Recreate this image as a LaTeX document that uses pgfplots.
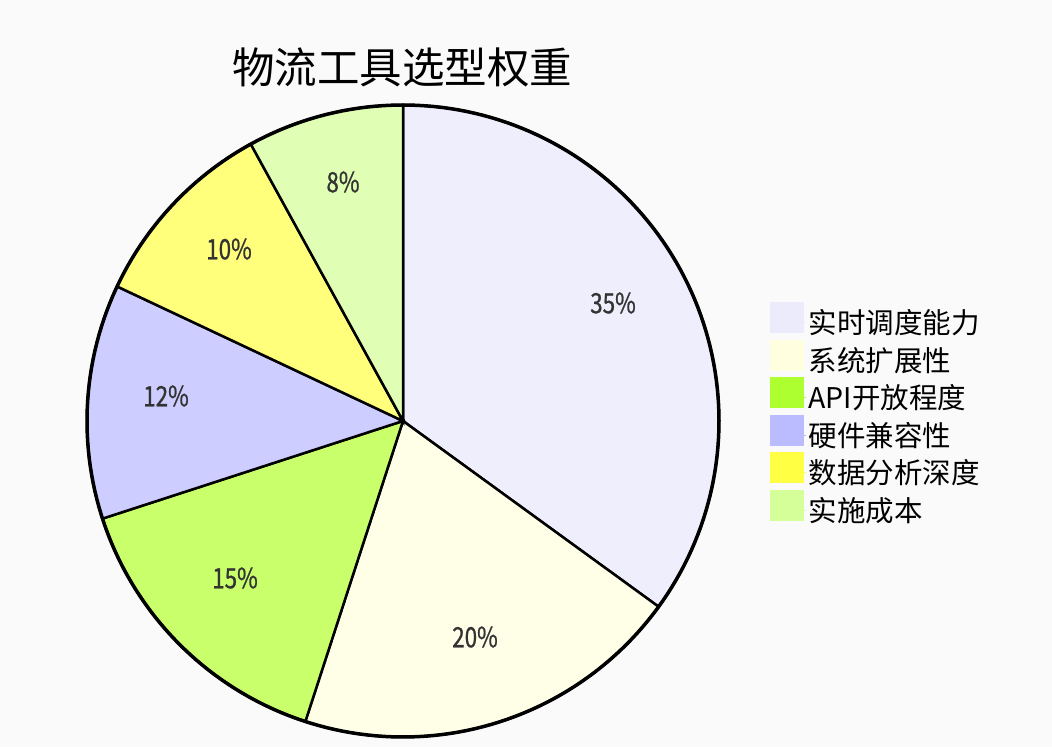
\documentclass[border=0pt]{standalone}
\usepackage{pgfplots}
\pgfplotsset{compat=1.18}
\usepackage{fontspec}
\setmainfont{Noto Sans CJK SC}
\newfontfamily\pctfont{Noto Sans CJK SC}[FakeStretch=0.8, FakeBold=0.8]
\definecolor{bg}{HTML}{FAFAFA}
\definecolor{s1}{HTML}{EEEEFC}
\definecolor{s2}{HTML}{FFFFE8}
\definecolor{s3}{HTML}{C9FF6A}
\definecolor{s4}{HTML}{CDCDFF}
\definecolor{s5}{HTML}{FFFF7C}
\definecolor{s6}{HTML}{E0FFB4}
\definecolor{l1}{HTML}{EBEBFC}
\definecolor{l2}{HTML}{FFFFE0}
\definecolor{l3}{HTML}{ADFF2F}
\definecolor{l4}{HTML}{BBBBFF}
\definecolor{l5}{HTML}{FFFF44}
\definecolor{l6}{HTML}{D4FF99}
\definecolor{txt}{HTML}{333333}
\begin{document}
\begin{tikzpicture}
% shares in percent
\def\pA{35}\def\pB{20}\def\pC{15}\def\pD{12}\def\pE{10}\def\pF{8}
\pgfmathsetmacro\aA{90}
\pgfmathsetmacro\aB{\aA-3.6*\pA}
\pgfmathsetmacro\aC{\aB-3.6*\pB}
\pgfmathsetmacro\aD{\aC-3.6*\pC}
\pgfmathsetmacro\aE{\aD-3.6*\pD}
\pgfmathsetmacro\aF{\aE-3.6*\pE}
\pgfmathsetmacro\aG{\aF-3.6*\pF}
\begin{axis}[
  scale only axis, width=1052pt, height=747pt,
  xmin=0, xmax=1052, ymin=0, ymax=747,
  hide axis, clip=false,
  legend style={at={(axis cs:770,445)}, anchor=north west, draw=none, fill=none,
    inner sep=0pt, row sep=2.5pt, font=\fontsize{28.5}{30}\selectfont,
    cells={anchor=west}},
  legend cell align=left,
  legend image code/.code={\fill[#1] (0pt,-10pt) rectangle (33pt,20pt); \path (0pt,0pt) -- (36pt,0pt);},
]
\fill[bg] (axis cs:0,0) rectangle (axis cs:1052,747);
\addplot[fill=s1, draw=black, line width=2.5pt, domain=\aB:\aA, samples=90, forget plot] ({403+316*cos(x)},{326+316*sin(x)}) -- (axis cs:403,326) -- cycle;
\addplot[fill=s2, draw=black, line width=2.5pt, domain=\aC:\aB, samples=60, forget plot] ({403+316*cos(x)},{326+316*sin(x)}) -- (axis cs:403,326) -- cycle;
\addplot[fill=s3, draw=black, line width=2.5pt, domain=\aD:\aC, samples=50, forget plot] ({403+316*cos(x)},{326+316*sin(x)}) -- (axis cs:403,326) -- cycle;
\addplot[fill=s4, draw=black, line width=2.5pt, domain=\aE:\aD, samples=40, forget plot] ({403+316*cos(x)},{326+316*sin(x)}) -- (axis cs:403,326) -- cycle;
\addplot[fill=s5, draw=black, line width=2.5pt, domain=\aF:\aE, samples=40, forget plot] ({403+316*cos(x)},{326+316*sin(x)}) -- (axis cs:403,326) -- cycle;
\addplot[fill=s6, draw=black, line width=2.5pt, domain=\aG:\aF, samples=30, forget plot] ({403+316*cos(x)},{326+316*sin(x)}) -- (axis cs:403,326) -- cycle;
\addplot[draw=black, line width=3.5pt, domain=0:360, samples=240, forget plot] ({403+316*cos(x)},{326+316*sin(x)});
% percentage labels
\begin{scope}[every node/.style={text=txt, font=\pctfont\fontsize{28}{30}\selectfont, inner sep=0pt}]
\node at (axis cs:613,444) {35\%};
\node at (axis cs:475,110) {20\%};
\node at (axis cs:235,169) {15\%};
\node at (axis cs:166,351) {12\%};
\node at (axis cs:229,498) {10\%};
\node at (axis cs:343,565) {8\%};
\end{scope}
\node[font=\fontsize{42.5}{44}\selectfont, inner sep=0pt] at (axis cs:402,680) {物流工具选型权重};
\addlegendimage{l1}\addlegendentry{实时调度能力}
\addlegendimage{l2}\addlegendentry{系统扩展性}
\addlegendimage{l3}\addlegendentry{API开放程度}
\addlegendimage{l4}\addlegendentry{硬件兼容性}
\addlegendimage{l5}\addlegendentry{数据分析深度}
\addlegendimage{l6}\addlegendentry{实施成本}
\end{axis}
\end{tikzpicture}
\end{document}
